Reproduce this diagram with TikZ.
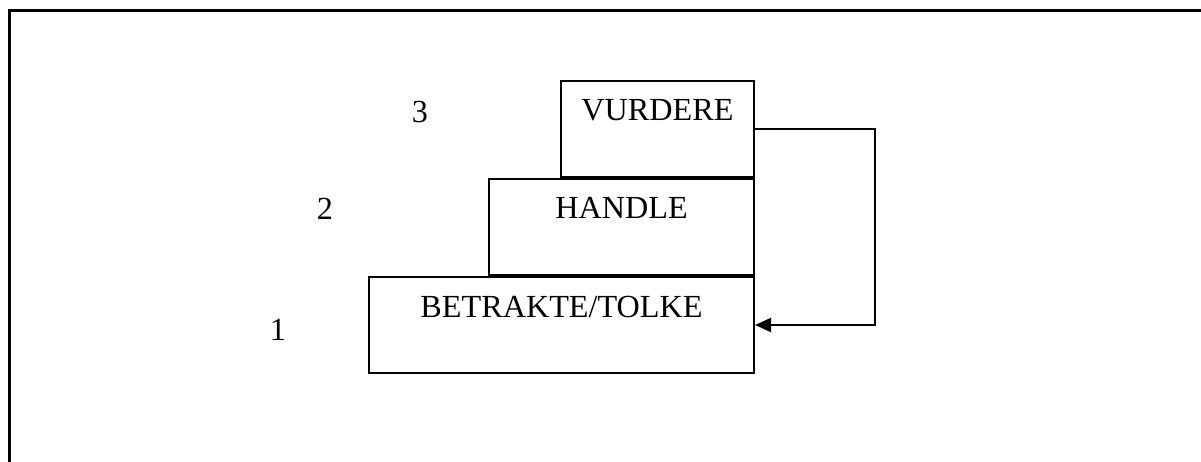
\documentclass[tikz,border=0pt]{standalone}
\usepackage{fontspec}
\setmainfont{Liberation Serif}
\usetikzlibrary{arrows.meta, positioning}

\begin{document}
\begin{tikzpicture}[
    x=1pt, y=-1pt,
    font=\fontsize{32.2}{38}\selectfont,
    level/.style = {draw, line width=2pt, inner sep=0pt, minimum height=96pt,
                    text height=40pt, text depth=56pt, anchor=south east},
    arrow/.style = {line width=2pt, -{Triangle[length=16pt, width=14pt]}},
    num/.style = {anchor=base, inner sep=0pt}
  ]

  \useasboundingbox (0,0) rectangle (1201,462);

  % Frame
  \draw[line width=3pt] (9,462) -- (9,11) -- (1201,11);

  % Bottom step
  \node[level, anchor=north east, minimum width=385pt] (betrakte) at (755,276) {BETRAKTE/TOLKE};

  % Middle and top steps stacked on the right edge
  \node[level, minimum width=265pt] (handle) at (betrakte.north east) {HANDLE};
  \node[level, minimum width=193pt] (vurdere) at (handle.north east) {VURDERE};

  % Step numbers
  \node[num] (n1) at (278,340) {1};
  \node[num] (n2) at (325,220) {2};
  \node[num] (n3) at (420,123) {3};

  % Feedback from the top step back to the first
  \draw[arrow] (vurdere.east) -- ++(120,0) |- (betrakte.east);

\end{tikzpicture}
\end{document}
